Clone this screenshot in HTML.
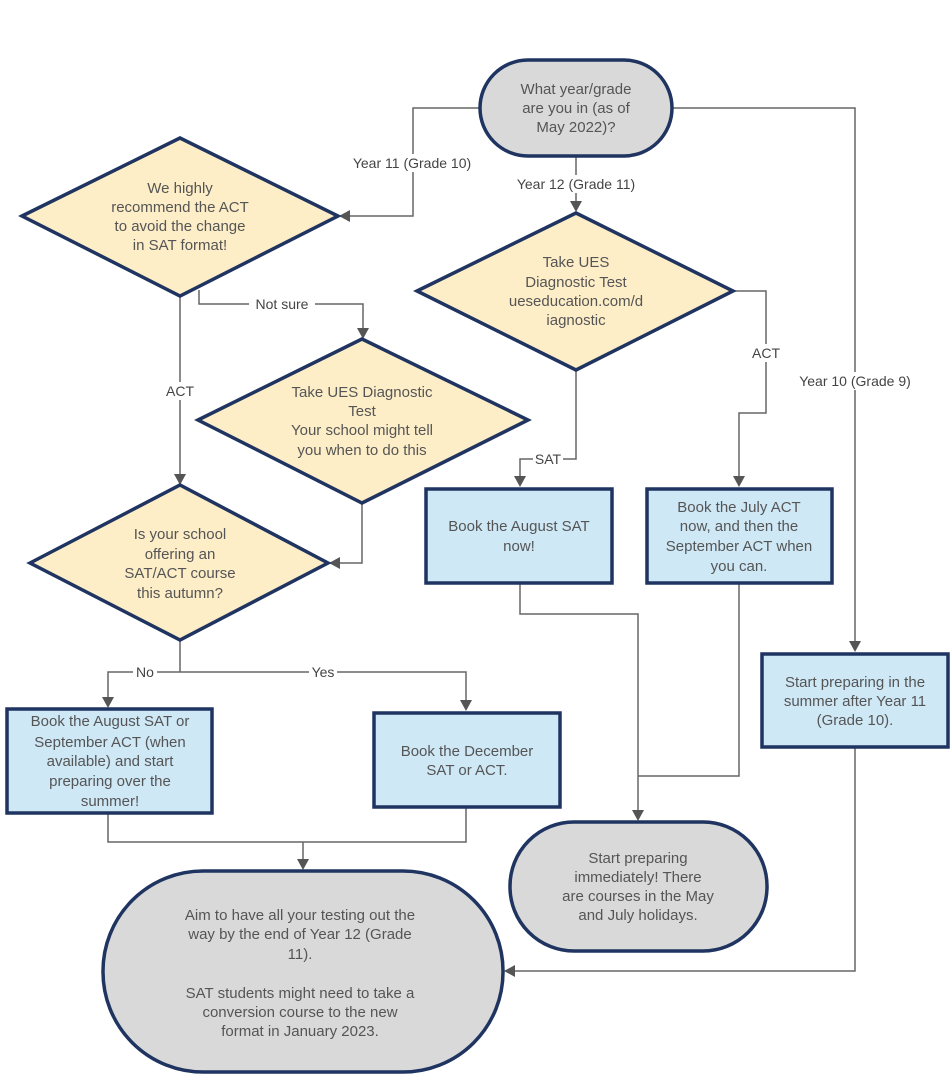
<!DOCTYPE html>
<html><head><meta charset="utf-8"><style>
html,body{margin:0;padding:0;background:#fff;}
svg{display:block;}
text{font-family:"Liberation Sans",sans-serif;}
.t{font-size:15px;fill:#555;text-anchor:middle;}
.l{font-size:14px;fill:#444;text-anchor:middle;}
.ln{fill:none;stroke:#666;stroke-width:1.5;}
.d{fill:#fdeec8;stroke:#1f3460;stroke-width:3.5;}
.b{fill:#cfe8f6;stroke:#1f3460;stroke-width:3.5;}
.g{fill:#d9d9d9;stroke:#1f3460;stroke-width:3.5;}
.a{fill:#555;}
.lb{fill:#fff;}
</style></head><body>
<svg width="952" height="1080" viewBox="0 0 952 1080" xmlns="http://www.w3.org/2000/svg">
<!-- connectors -->
<polyline class="ln" points="480,108 413,108 413,216 348,216"/>
<polygon class="a" points="339,216 350,210 350,222"/>
<polyline class="ln" points="576,156 576,203"/>
<polygon class="a" points="576,212 570,201 582,201"/>
<polyline class="ln" points="672,108 855,108 855,643"/>
<polygon class="a" points="855,652 849,641 861,641"/>
<polyline class="ln" points="180,296 180,476"/>
<polygon class="a" points="180,485 174,474 186,474"/>
<polyline class="ln" points="199,290 199,304 363,304 363,330"/>
<polygon class="a" points="363,339 357,328 369,328"/>
<polyline class="ln" points="362,503 362,563 338,563"/>
<polygon class="a" points="329,563 340,557 340,569"/>
<polyline class="ln" points="733,291 766,291 766,413 739,413 739,478"/>
<polygon class="a" points="739,487 733,476 745,476"/>
<polyline class="ln" points="576,370 576,459 520,459 520,478"/>
<polygon class="a" points="520,487 514,476 526,476"/>
<polyline class="ln" points="180,640 180,672"/>
<polyline class="ln" points="108,699 108,672 466,672 466,702"/>
<polygon class="a" points="108,708 102,697 114,697"/>
<polygon class="a" points="466,711 460,700 472,700"/>
<polyline class="ln" points="108,813 108,842 466,842 466,807"/>
<polyline class="ln" points="303,842 303,861"/>
<polygon class="a" points="303,870 297,859 309,859"/>
<polyline class="ln" points="520,583 520,614 638,614 638,812"/>
<polygon class="a" points="638,821 632,810 644,810"/>
<polyline class="ln" points="739,583 739,776 638,776"/>
<polyline class="ln" points="855,747 855,971 513,971"/>
<polygon class="a" points="504,971 515,965 515,977"/>

<!-- labels -->
<rect class="lb" x="346" y="154" width="132" height="18"/>
<text class="l" x="412" y="168">Year 11 (Grade 10)</text>
<rect class="lb" x="509" y="175" width="133" height="18"/>
<text class="l" x="576" y="189">Year 12 (Grade 11)</text>
<rect class="lb" x="792" y="372" width="126" height="18"/>
<text class="l" x="855" y="386">Year 10 (Grade 9)</text>
<rect class="lb" x="249" y="295" width="66" height="18"/>
<text class="l" x="282" y="309">Not sure</text>
<rect class="lb" x="164" y="382" width="32" height="18"/>
<text class="l" x="180" y="396">ACT</text>
<rect class="lb" x="750" y="344" width="32" height="18"/>
<text class="l" x="766" y="358">ACT</text>
<rect class="lb" x="533" y="450" width="30" height="18"/>
<text class="l" x="548" y="464">SAT</text>
<rect class="lb" x="133" y="663" width="24" height="18"/>
<text class="l" x="145" y="677">No</text>
<rect class="lb" x="309" y="663" width="28" height="18"/>
<text class="l" x="323" y="677">Yes</text>

<!-- shapes -->
<rect class="g" x="480" y="60" width="192" height="96" rx="48"/>
<text class="t" x="576" y="94">What year/grade</text>
<text class="t" x="576" y="113">are you in (as of</text>
<text class="t" x="576" y="132">May 2022)?</text>

<polygon class="d" points="22,216 180,138 338,216 180,296"/>
<text class="t" x="180" y="193">We highly</text>
<text class="t" x="180" y="212">recommend the ACT</text>
<text class="t" x="180" y="231">to avoid the change</text>
<text class="t" x="180" y="250">in SAT format!</text>

<polygon class="d" points="417,291 576,213 733,291 576,370"/>
<text class="t" x="576" y="267">Take UES</text>
<text class="t" x="576" y="287">Diagnostic Test</text>
<text class="t" x="576" y="306">ueseducation.com/d</text>
<text class="t" x="576" y="325">iagnostic</text>

<polygon class="d" points="198,420 362,339 528,420 362,503"/>
<text class="t" x="362" y="397">Take UES Diagnostic</text>
<text class="t" x="362" y="416">Test</text>
<text class="t" x="362" y="435">Your school might tell</text>
<text class="t" x="362" y="455">you when to do this</text>

<polygon class="d" points="30,563 180,485 328,563 180,640"/>
<text class="t" x="180" y="539">Is your school</text>
<text class="t" x="180" y="559">offering an</text>
<text class="t" x="180" y="578">SAT/ACT course</text>
<text class="t" x="180" y="598">this autumn?</text>

<rect class="b" x="426" y="489" width="186" height="94"/>
<text class="t" x="519" y="531">Book the August SAT</text>
<text class="t" x="519" y="551">now!</text>

<rect class="b" x="647" y="489" width="185" height="94"/>
<text class="t" x="739" y="512">Book the July ACT</text>
<text class="t" x="739" y="531">now, and then the</text>
<text class="t" x="739" y="551">September ACT when</text>
<text class="t" x="739" y="571">you can.</text>

<rect class="b" x="762" y="654" width="186" height="93"/>
<text class="t" x="855" y="687">Start preparing in the</text>
<text class="t" x="855" y="706">summer after Year 11</text>
<text class="t" x="855" y="725">(Grade 10).</text>

<rect class="b" x="7" y="709" width="205" height="104"/>
<text class="t" x="110" y="726">Book the August SAT or</text>
<text class="t" x="110" y="747">September ACT (when</text>
<text class="t" x="110" y="766">available) and start</text>
<text class="t" x="110" y="786">preparing over the</text>
<text class="t" x="110" y="806">summer!</text>

<rect class="b" x="374" y="713" width="186" height="94"/>
<text class="t" x="467" y="756">Book the December</text>
<text class="t" x="467" y="775">SAT or ACT.</text>

<rect class="g" x="510" y="822" width="257" height="129" rx="64"/>
<text class="t" x="638" y="863">Start preparing</text>
<text class="t" x="638" y="882">immediately! There</text>
<text class="t" x="638" y="901">are courses in the May</text>
<text class="t" x="638" y="920">and July holidays.</text>

<rect class="g" x="103" y="871" width="400" height="201" rx="100"/>
<text class="t" x="300" y="920">Aim to have all your testing out the</text>
<text class="t" x="300" y="939">way by the end of Year 12 (Grade</text>
<text class="t" x="300" y="959">11).</text>
<text class="t" x="300" y="998">SAT students might need to take a</text>
<text class="t" x="300" y="1017">conversion course to the new</text>
<text class="t" x="300" y="1036">format in January 2023.</text>
</svg>
</body></html>
